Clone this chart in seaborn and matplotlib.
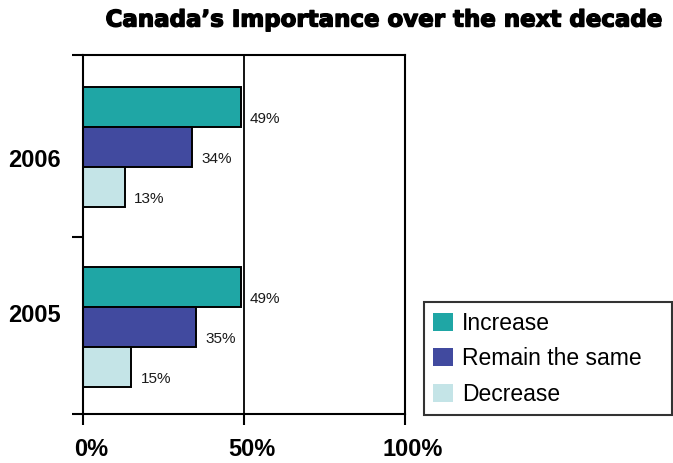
import matplotlib
matplotlib.use("Agg")
import matplotlib.pyplot as plt
import matplotlib.transforms as mtransforms
import matplotlib.patheffects as pe
import seaborn as sns
import pandas as pd

# Survey results: share of respondents per answer, by year
years = ["2006", "2005"]
responses = ["Increase", "Remain the same", "Decrease"]
increase = [49, 49]
remain_same = [34, 35]
decrease = [13, 15]

colors = ["#1FA6A5", "#414A9F", "#C4E4E7"]
x_ticks = [0, 50, 100]
x_tick_labels = ["0%", "50%", "100%"]

df = pd.DataFrame({
    "year": years * 3,
    "response": [r for r in responses for _ in years],
    "value": increase + remain_same + decrease,
})

sns.set_theme(style="white")
plt.rcParams["font.family"] = ["Liberation Sans", "DejaVu Sans"]
plt.rcParams["text.color"] = "black"
plt.rcParams["xtick.color"] = "black"
plt.rcParams["ytick.color"] = "black"
plt.rcParams["axes.labelcolor"] = "black"

fig = plt.figure(figsize=(6.73, 4.63), dpi=100)
ax = fig.add_axes([83 / 673, 1 - 414 / 463, 322 / 673, 359 / 463])

sns.barplot(
    data=df, y="year", x="value", hue="response",
    order=years, hue_order=responses, palette=colors,
    orient="h", width=0.667, edgecolor="black", linewidth=1.4,
    saturation=1, ax=ax,
)

ax.axvline(50, color="black", linewidth=1.3, zorder=0)

ax.set_xlim(0, 100)
ax.set_ylim(1.483, -0.511)
ax.set_xlabel("")
ax.set_ylabel("")

# value labels, just right of each bar end
for cont in ax.containers:
    for bar in cont:
        w = bar.get_width()
        yc = bar.get_y() + bar.get_height() / 2
        ax.text(w + 2.9, yc + 0.065, f"{w:.0f}%", ha="left", va="center",
                fontsize=11, color="#1a1a1a")

# x axis
ax.set_xticks(x_ticks)
ax.set_xticklabels(x_tick_labels, fontsize=17, fontweight="bold")
ax.tick_params(axis="x", direction="out", length=8, width=1.5,
               color="black", pad=9, bottom=True)
shift = mtransforms.ScaledTranslation(8 / 100, 0, fig.dpi_scale_trans)
for lbl in ax.get_xticklabels():
    lbl.set_transform(lbl.get_transform() + shift)

# y axis: tick marks at group boundaries, year labels without marks
ax.set_yticks([0.061, 0.922])
ax.set_yticklabels(years, fontsize=17, fontweight="bold")
ax.tick_params(axis="y", which="major", length=0, pad=16, left=True)
ax.set_yticks([-0.511, 0.5, 1.483], minor=True)
ax.tick_params(axis="y", which="minor", direction="out", length=8,
               width=1.5, color="black", left=True)

for sp in ax.spines.values():
    sp.set_visible(True)
    sp.set_color("black")
    sp.set_linewidth(1.5)

handles, labels = ax.get_legend_handles_labels()
ax.get_legend().remove()
leg = fig.legend(
    handles, labels, loc="lower left",
    bbox_to_anchor=(424 / 673, 48 / 463, 248 / 673, 112 / 463),
    mode="expand", fontsize=16.5, frameon=True, fancybox=False,
    edgecolor="black", handlelength=0.85, handleheight=0.85,
    handletextpad=0.4, labelspacing=0.55, borderpad=0.4, borderaxespad=0,
)
leg.get_frame().set_linewidth(1.5)
for h in leg.legend_handles:
    h.set_edgecolor("none")

fig.text(383 / 673, 1 - 20 / 463, "Canada\u2019s Importance over the next decade",
         ha="center", va="center", fontsize=16.5, fontweight="bold",
         family=["DejaVu Sans"],
         path_effects=[pe.withStroke(linewidth=1.0, foreground="black")])

fig.savefig("out.png", dpi=100)
